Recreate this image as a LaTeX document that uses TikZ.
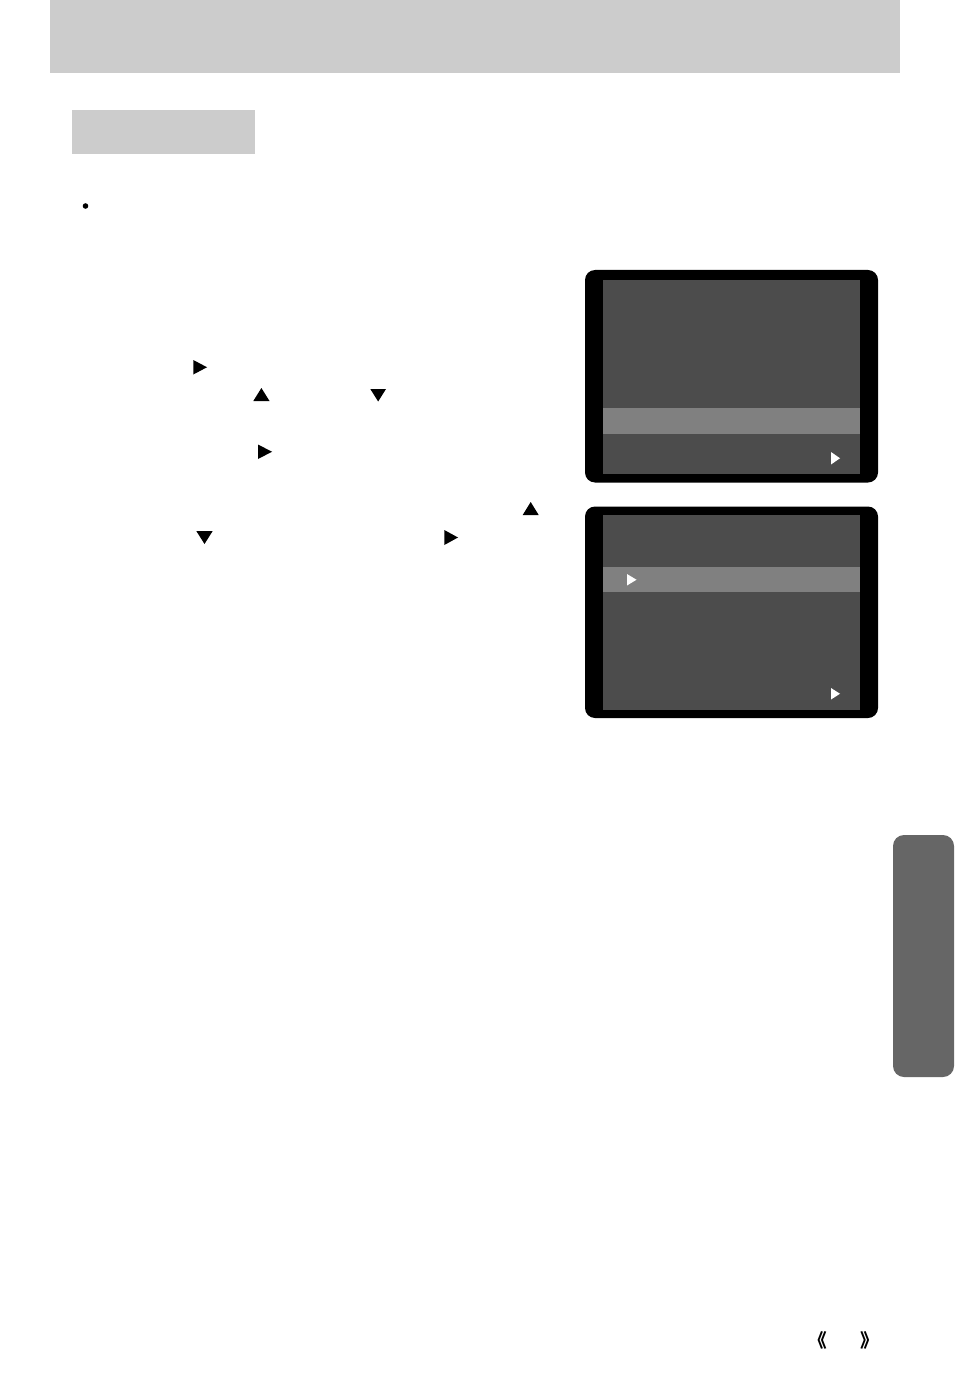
\documentclass[tikz,border=0pt]{standalone}
\usepackage{fontspec}
\newfontfamily\cjk{Noto Sans CJK SC}
\tikzset{
	band/.style={fill=black!20},
	screenframe/.style={fill=black, rounded corners=10*0.75pt},
	screenbody/.style={fill=black!70},
	screenbar/.style={fill=black!50},
	keymark/.style={fill=black},
	screenmark/.style={fill=white},
	pagemark/.style={inner sep=0pt, font=\cjk\bfseries\fontsize{14}{14}\selectfont}
}
% one triangle inside a box: left, top, right, bottom
\def\markright[#1](#2,#3)(#4,#5){\fill[#1] (#2,#3) -- (#4,{(#3+#5)/2}) -- (#2,#5) -- cycle;}
\def\markup[#1](#2,#3)(#4,#5){\fill[#1] (#2,#5) -- ({(#2+#4)/2},#3) -- (#4,#5) -- cycle;}
\def\markdown[#1](#2,#3)(#4,#5){\fill[#1] (#2,#3) -- (#4,#3) -- ({(#2+#4)/2},#5) -- cycle;}

\begin{document}
\begin{tikzpicture}[x=0.75pt, y=-0.75pt]
			%%%%% START %%%%%
			
			\useasboundingbox[fill=white] (0, 0) rectangle (954, 1394);
			\fill[white] (0, 0) rectangle (954, 1394);
			
			\fill[band] (50, 0) rectangle (900, 73);
			\fill[band] (72, 110) rectangle (255, 154);
			\fill (85.5, 206) circle (2.8);
			
			\markright[keymark](193.3, 360)(207, 374.5);
			\markup[keymark](253.3, 388)(269.5, 401);
			\markdown[keymark](370.3, 389)(386, 401.5);
			\markright[keymark](258, 444.5)(272, 459);
			\markup[keymark](522.7, 502)(538.7, 515);
			\markdown[keymark](196.3, 531)(212.7, 544);
			\markright[keymark](444.3, 530)(458, 545);
			
			\fill[screenframe] (585, 270) rectangle (878, 482.5);
			\fill[screenbody] (603, 280) rectangle (860, 474);
			\fill[screenbar] (603, 408) rectangle (860, 434);
			\markright[screenmark](831, 452)(840, 464.5);
			
			\fill[screenframe] (585, 506.5) rectangle (878, 718);
			\fill[screenbody] (603, 515) rectangle (860, 710);
			\fill[screenbar] (603, 567) rectangle (860, 592);
			\markright[screenmark](627, 574)(636.5, 585.5);
			\markright[screenmark](831, 688)(840, 699.5);
			
			\fill[black!60, rounded corners=11*0.75pt] (954, 835) -- (893, 835) -- (893, 1077) -- (954, 1077) -- cycle;
			
			\node[pagemark] (prevmark) at (818, 1340) {《};
			\node[pagemark] (nextmark) at (869.5, 1340) {》};
			
			%%%%% END %%%%%
		\end{tikzpicture}
\end{document}
